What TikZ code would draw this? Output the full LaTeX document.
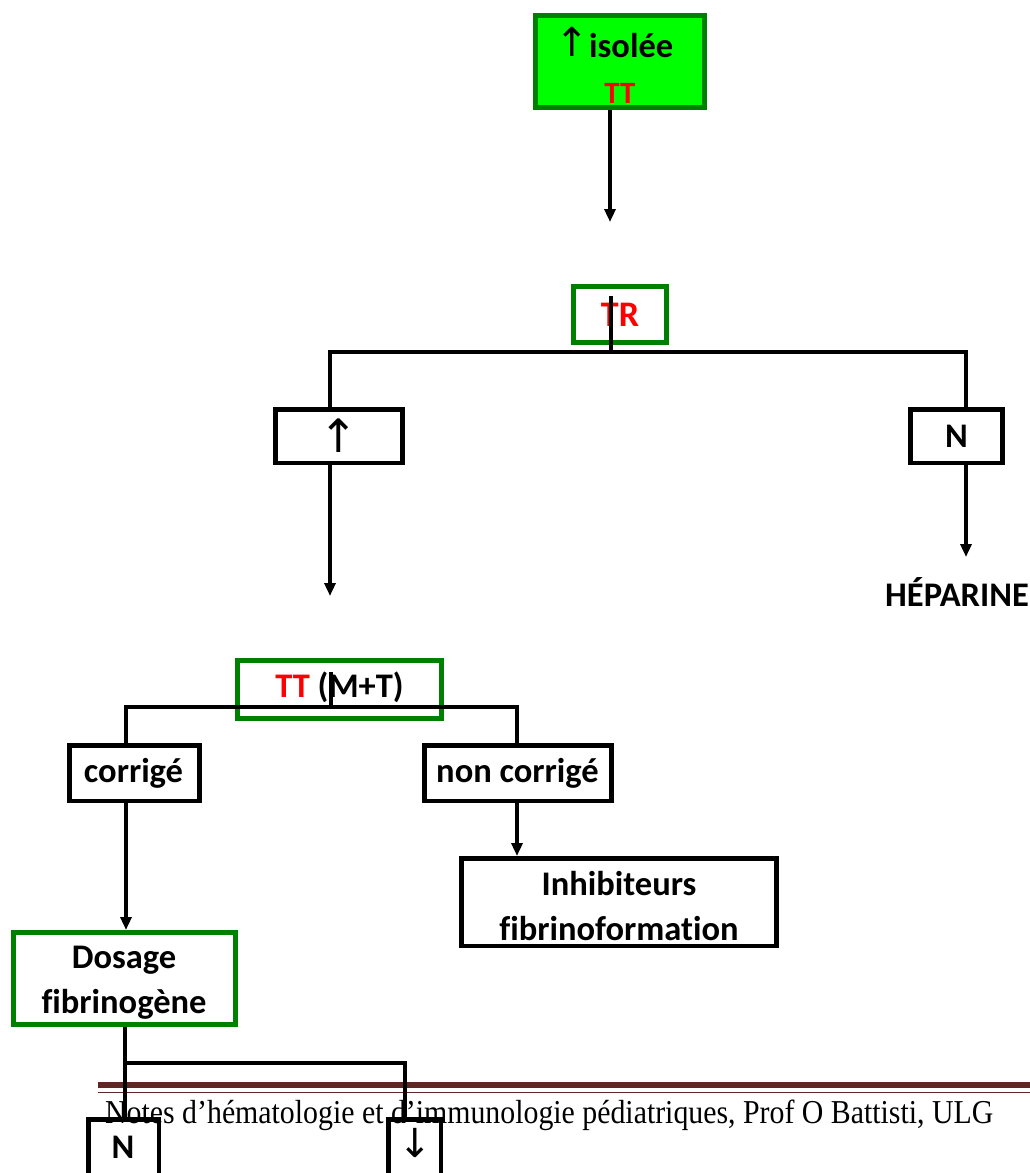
\documentclass[tikz,border=0pt]{standalone}
\usepackage{fontspec}
\setmainfont{Carlito}[Ligatures=NoCommon]
\newfontfamily\arrowfont{DejaVu Sans}
\newfontfamily\footfont{Liberation Serif}
\usetikzlibrary{arrows.meta}
\definecolor{brightgreen}{RGB}{0,255,0}
\definecolor{boxgreen}{RGB}{0,128,0}
\definecolor{rulered}{RGB}{99,37,35}
\definecolor{ttred}{RGB}{255,0,0}
\begin{document}
\begin{tikzpicture}[x=1pt,y=-1pt,
  box/.style={draw=black,line width=4.5pt,inner sep=0pt,fill=white,font=\bfseries\fontsize{34}{40}\selectfont},
  gbox/.style={box,draw=boxgreen,line width=5pt},
  txt/.style={inner sep=0pt,font=\bfseries\fontsize{34.5}{40}\selectfont},
  arrtxt/.style={inner sep=0pt,font=\arrowfont\fontsize{46}{46}\selectfont},
  conn/.style={line width=4pt,black},
  arr/.style={conn,-{Triangle[length=13pt,width=11pt]}}
]
\useasboundingbox (0,0) rectangle (1030,1173);
\clip (0,0) rectangle (1030,1173);
% footer
\fill[rulered] (98,1082) rectangle (1030,1088);
\fill[rulered] (98,1091.5) rectangle (1030,1093);
\node[anchor=base west,inner sep=0pt] (foot) at (105,1123) {\scalebox{1}[1.12]{\resizebox{888pt}{!}{\footfont\fontsize{27}{30}\selectfont Notes d’hématologie et d’immunologie pédiatriques, Prof O Battisti, ULG}}};
% boxes
\node[gbox,fill=brightgreen,minimum width=169pt,minimum height=92pt] (top) at (620,61.5) {};
\node[arrtxt,font=\arrowfont\fontsize{40}{40}\selectfont] (topar) at (572,42) {↑};
\node[txt,anchor=base west] (topt) at (589,57) {isolée};
\node[txt,anchor=base,text=ttred,font=\bfseries\fontsize{31}{34}\selectfont] (toptt) at (620,103) {TT};
\node[gbox,minimum width=93pt,minimum height=56pt] (tr) at (620,314.5) {};
\node[txt,anchor=base,text=ttred,font=\bfseries\fontsize{36}{40}\selectfont] (trt) at (620,326) {TR};
\node[box,minimum width=127pt,minimum height=53.5pt] (up) at (339,436) {};
\node[arrtxt] (upt) at (339,436) {↑};
\node[box,minimum width=92pt,minimum height=53.5pt] (n1) at (956.5,436) {};
\node[txt,anchor=base] (n1t) at (956.5,447) {N};
\node[txt,anchor=base] (hep) at (957,606) {HÉPARINE};
\node[gbox,minimum width=204pt,minimum height=58pt] (ttmt) at (339.5,689.5) {};
\node[txt,anchor=base] (ttmtt) at (339.5,697) {\textcolor{ttred}{TT} (M+T)};
\node[box,minimum width=130pt,minimum height=55.5pt] (corr) at (134.5,773) {};
\node[txt,anchor=base] (corrt) at (133.5,782) {corrigé};
\node[box,minimum width=187pt,minimum height=55.5pt] (ncorr) at (518,773) {};
\node[txt,anchor=base] (ncorrt) at (517.5,782) {non corrigé};
\node[box,minimum width=315pt,minimum height=87.5pt] (inh) at (619,902) {};
\node[txt,anchor=base] (inh1) at (619,895) {Inhibiteurs};
\node[txt,anchor=base] (inh2) at (619,940) {fibrinoformation};
\node[gbox,minimum width=222pt,minimum height=92pt] (dos) at (124.5,978.5) {};
\node[txt,anchor=base] (dos1) at (124,968) {Dosage};
\node[txt,anchor=base] (dos2) at (124,1013) {fibrinogène};
\node[box,fill=none,minimum width=70.5pt,minimum height=80pt] (nb) at (123.5,1159.5) {};
\node[txt] (nbt) at (123,1147.5) {N};
\node[box,fill=none,minimum width=52.5pt,minimum height=80pt] (dn) at (414.5,1159.5) {};
\node[arrtxt,font=\arrowfont\fontsize{40}{40}\selectfont] (dnt) at (415,1142.5) {↓};
% connectors
\coordinate (a1) at (610,222);
\draw[arr] (a1 |- top.south) -- (a1);
\coordinate (trin) at (611,296);
\coordinate (trbar) at (611,352);
\coordinate (upj) at (330,352);
\coordinate (nj) at (966,352);
\draw[conn] (trin) -- (trbar);
\draw[conn] (upj |- up.north) -- (upj) -- (nj) -- (nj |- n1.north);
\coordinate (a2) at (330,596);
\draw[arr] (a2 |- up.south) -- (a2);
\coordinate (a3) at (966,557);
\draw[arr] (a3 |- n1.south) -- (a3);
\coordinate (ttin) at (331,672);
\coordinate (ttbar) at (331,707);
\coordinate (cj) at (126,707);
\coordinate (ncj) at (517,707);
\draw[conn] (ttin) -- (ttbar);
\draw[conn] (cj |- corr.north) -- (cj) -- (ncj) -- (ncj |- ncorr.north);
\draw[arr] (cj |- corr.south) -- (cj |- dos.north);
\draw[arr] (ncj |- ncorr.south) -- (ncj |- inh.north);
\coordinate (dj) at (125,1063);
\coordinate (dnj) at (405,1063);
\draw[conn] (dj |- dos.south) -- (dj |- nb.north);
\draw[conn] (dj) -- (dnj) -- (dnj |- dn.north);
\end{tikzpicture}
\end{document}
